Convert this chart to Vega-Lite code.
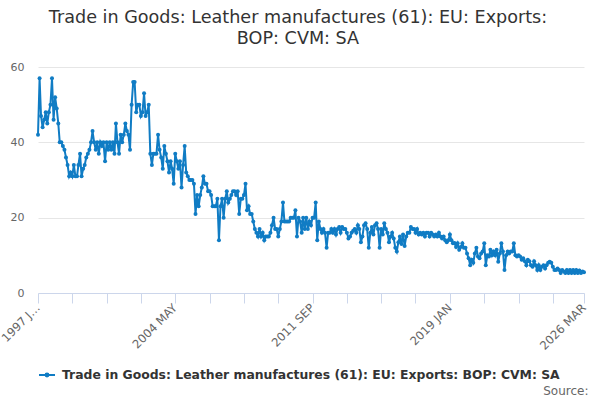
{
  "$schema": "https://vega.github.io/schema/vega-lite/v6.json",
  "width": 546,
  "height": 226,
  "autosize": {"type": "none"},
  "padding": {"left": 38, "top": 67, "right": 16, "bottom": 107},
  "background": "white",
  "title": {
    "text": ["Trade in Goods: Leather manufactures (61): EU: Exports:", "BOP: CVM: SA"],
    "anchor": "middle",
    "dx": -13,
    "offset": 13,
    "font": "DejaVu Sans",
    "fontSize": 17.6,
    "fontWeight": "normal",
    "color": "#333333",
    "lineHeight": 21
  },
  "config": {
    "view": {"stroke": null},
    "font": "DejaVu Sans"
  },
  "data": {
    "values": [
      {"date":"1997-01-01","v":42},{"date":"1997-02-01","v":57},{"date":"1997-03-01","v":47},{"date":"1997-04-01","v":44},{"date":"1997-05-01","v":46},{"date":"1997-06-01","v":48},{"date":"1997-07-01","v":45},{"date":"1997-08-01","v":48},{"date":"1997-09-01","v":50},{"date":"1997-10-01","v":57},{"date":"1997-11-01","v":46},{"date":"1997-12-01","v":52},
      {"date":"1998-01-01","v":49},{"date":"1998-02-01","v":45},{"date":"1998-03-01","v":40},{"date":"1998-04-01","v":40},{"date":"1998-05-01","v":39},{"date":"1998-06-01","v":38},{"date":"1998-07-01","v":36},{"date":"1998-08-01","v":34},{"date":"1998-09-01","v":31},{"date":"1998-10-01","v":32},{"date":"1998-11-01","v":31},{"date":"1998-12-01","v":34},
      {"date":"1999-01-01","v":31},{"date":"1999-02-01","v":31},{"date":"1999-03-01","v":34},{"date":"1999-04-01","v":37},{"date":"1999-05-01","v":31},{"date":"1999-06-01","v":33},{"date":"1999-07-01","v":34},{"date":"1999-08-01","v":36},{"date":"1999-09-01","v":37},{"date":"1999-10-01","v":38},{"date":"1999-11-01","v":40},{"date":"1999-12-01","v":43},
      {"date":"2000-01-01","v":40},{"date":"2000-02-01","v":38},{"date":"2000-03-01","v":40},{"date":"2000-04-01","v":37},{"date":"2000-05-01","v":40},{"date":"2000-06-01","v":39},{"date":"2000-07-01","v":40},{"date":"2000-08-01","v":35},{"date":"2000-09-01","v":40},{"date":"2000-10-01","v":38},{"date":"2000-11-01","v":40},{"date":"2000-12-01","v":38},
      {"date":"2001-01-01","v":40},{"date":"2001-02-01","v":37},{"date":"2001-03-01","v":45},{"date":"2001-04-01","v":40},{"date":"2001-05-01","v":37},{"date":"2001-06-01","v":42},{"date":"2001-07-01","v":40},{"date":"2001-08-01","v":42},{"date":"2001-09-01","v":45},{"date":"2001-10-01","v":43},{"date":"2001-11-01","v":42},{"date":"2001-12-01","v":38},
      {"date":"2002-01-01","v":50},{"date":"2002-02-01","v":56},{"date":"2002-03-01","v":56},{"date":"2002-04-01","v":48},{"date":"2002-05-01","v":50},{"date":"2002-06-01","v":50},{"date":"2002-07-01","v":47},{"date":"2002-08-01","v":48},{"date":"2002-09-01","v":53},{"date":"2002-10-01","v":47},{"date":"2002-11-01","v":48},{"date":"2002-12-01","v":50},
      {"date":"2003-01-01","v":37},{"date":"2003-02-01","v":34},{"date":"2003-03-01","v":37},{"date":"2003-04-01","v":37},{"date":"2003-05-01","v":37},{"date":"2003-06-01","v":42},{"date":"2003-07-01","v":38},{"date":"2003-08-01","v":36},{"date":"2003-09-01","v":33},{"date":"2003-10-01","v":39},{"date":"2003-11-01","v":37},{"date":"2003-12-01","v":35},
      {"date":"2004-01-01","v":32},{"date":"2004-02-01","v":35},{"date":"2004-03-01","v":33},{"date":"2004-04-01","v":29},{"date":"2004-05-01","v":37},{"date":"2004-06-01","v":35},{"date":"2004-07-01","v":33},{"date":"2004-08-01","v":35},{"date":"2004-09-01","v":28},{"date":"2004-10-01","v":34},{"date":"2004-11-01","v":39},{"date":"2004-12-01","v":32},
      {"date":"2005-01-01","v":31},{"date":"2005-02-01","v":30},{"date":"2005-03-01","v":30},{"date":"2005-04-01","v":30},{"date":"2005-05-01","v":29},{"date":"2005-06-01","v":21},{"date":"2005-07-01","v":26},{"date":"2005-08-01","v":23},{"date":"2005-09-01","v":26},{"date":"2005-10-01","v":28},{"date":"2005-11-01","v":31},{"date":"2005-12-01","v":29},
      {"date":"2006-01-01","v":29},{"date":"2006-02-01","v":27},{"date":"2006-03-01","v":27},{"date":"2006-04-01","v":26},{"date":"2006-05-01","v":23},{"date":"2006-06-01","v":23},{"date":"2006-07-01","v":23},{"date":"2006-08-01","v":25},{"date":"2006-09-01","v":14},{"date":"2006-10-01","v":23},{"date":"2006-11-01","v":25},{"date":"2006-12-01","v":20},
      {"date":"2007-01-01","v":25},{"date":"2007-02-01","v":27},{"date":"2007-03-01","v":24},{"date":"2007-04-01","v":25},{"date":"2007-05-01","v":26},{"date":"2007-06-01","v":27},{"date":"2007-07-01","v":27},{"date":"2007-08-01","v":26},{"date":"2007-09-01","v":27},{"date":"2007-10-01","v":21},{"date":"2007-11-01","v":25},{"date":"2007-12-01","v":25},
      {"date":"2008-01-01","v":26},{"date":"2008-02-01","v":29},{"date":"2008-03-01","v":22},{"date":"2008-04-01","v":23},{"date":"2008-05-01","v":21},{"date":"2008-06-01","v":21},{"date":"2008-07-01","v":19},{"date":"2008-08-01","v":17},{"date":"2008-09-01","v":16},{"date":"2008-10-01","v":15},{"date":"2008-11-01","v":17},{"date":"2008-12-01","v":15},
      {"date":"2009-01-01","v":16},{"date":"2009-02-01","v":14},{"date":"2009-03-01","v":15},{"date":"2009-04-01","v":15},{"date":"2009-05-01","v":15},{"date":"2009-06-01","v":16},{"date":"2009-07-01","v":18},{"date":"2009-08-01","v":20},{"date":"2009-09-01","v":17},{"date":"2009-10-01","v":17},{"date":"2009-11-01","v":15},{"date":"2009-12-01","v":17},
      {"date":"2010-01-01","v":19},{"date":"2010-02-01","v":24},{"date":"2010-03-01","v":19},{"date":"2010-04-01","v":19},{"date":"2010-05-01","v":19},{"date":"2010-06-01","v":19},{"date":"2010-07-01","v":20},{"date":"2010-08-01","v":20},{"date":"2010-09-01","v":20},{"date":"2010-10-01","v":22},{"date":"2010-11-01","v":15},{"date":"2010-12-01","v":20},
      {"date":"2011-01-01","v":19},{"date":"2011-02-01","v":16},{"date":"2011-03-01","v":20},{"date":"2011-04-01","v":17},{"date":"2011-05-01","v":20},{"date":"2011-06-01","v":17},{"date":"2011-07-01","v":19},{"date":"2011-08-01","v":18},{"date":"2011-09-01","v":20},{"date":"2011-10-01","v":20},{"date":"2011-11-01","v":24},{"date":"2011-12-01","v":14},
      {"date":"2012-01-01","v":19},{"date":"2012-02-01","v":17},{"date":"2012-03-01","v":16},{"date":"2012-04-01","v":17},{"date":"2012-05-01","v":16},{"date":"2012-06-01","v":12},{"date":"2012-07-01","v":16},{"date":"2012-08-01","v":16},{"date":"2012-09-01","v":17},{"date":"2012-10-01","v":16},{"date":"2012-11-01","v":17},{"date":"2012-12-01","v":15.5},
      {"date":"2013-01-01","v":17},{"date":"2013-02-01","v":17.5},{"date":"2013-03-01","v":16},{"date":"2013-04-01","v":17.5},{"date":"2013-05-01","v":17},{"date":"2013-06-01","v":17},{"date":"2013-07-01","v":16},{"date":"2013-08-01","v":14.5},{"date":"2013-09-01","v":15},{"date":"2013-10-01","v":16},{"date":"2013-11-01","v":16.5},{"date":"2013-12-01","v":17},
      {"date":"2014-01-01","v":16},{"date":"2014-02-01","v":18},{"date":"2014-03-01","v":17},{"date":"2014-04-01","v":13.5},{"date":"2014-05-01","v":15},{"date":"2014-06-01","v":18},{"date":"2014-07-01","v":18.5},{"date":"2014-08-01","v":17},{"date":"2014-09-01","v":12},{"date":"2014-10-01","v":16},{"date":"2014-11-01","v":17.5},{"date":"2014-12-01","v":15.5},
      {"date":"2015-01-01","v":18},{"date":"2015-02-01","v":18.5},{"date":"2015-03-01","v":17},{"date":"2015-04-01","v":12},{"date":"2015-05-01","v":17},{"date":"2015-06-01","v":15.5},{"date":"2015-07-01","v":18.5},{"date":"2015-08-01","v":17},{"date":"2015-09-01","v":16},{"date":"2015-10-01","v":13.5},{"date":"2015-11-01","v":15},{"date":"2015-12-01","v":16},
      {"date":"2016-01-01","v":14.5},{"date":"2016-02-01","v":12},{"date":"2016-03-01","v":11},{"date":"2016-04-01","v":13.5},{"date":"2016-05-01","v":15},{"date":"2016-06-01","v":13},{"date":"2016-07-01","v":15.5},{"date":"2016-08-01","v":12.5},{"date":"2016-09-01","v":15},{"date":"2016-10-01","v":16},{"date":"2016-11-01","v":16},{"date":"2016-12-01","v":17.5},
      {"date":"2017-01-01","v":17},{"date":"2017-02-01","v":17},{"date":"2017-03-01","v":16},{"date":"2017-04-01","v":17},{"date":"2017-05-01","v":15.5},{"date":"2017-06-01","v":16},{"date":"2017-07-01","v":15.5},{"date":"2017-08-01","v":16},{"date":"2017-09-01","v":15},{"date":"2017-10-01","v":16},{"date":"2017-11-01","v":16},{"date":"2017-12-01","v":15},
      {"date":"2018-01-01","v":16},{"date":"2018-02-01","v":15.5},{"date":"2018-03-01","v":15},{"date":"2018-04-01","v":15.5},{"date":"2018-05-01","v":15},{"date":"2018-06-01","v":16},{"date":"2018-07-01","v":15},{"date":"2018-08-01","v":14.5},{"date":"2018-09-01","v":15},{"date":"2018-10-01","v":14},{"date":"2018-11-01","v":13.5},{"date":"2018-12-01","v":14},
      {"date":"2019-01-01","v":15.5},{"date":"2019-02-01","v":14},{"date":"2019-03-01","v":13.2},{"date":"2019-04-01","v":13.3},{"date":"2019-05-01","v":12.2},{"date":"2019-06-01","v":13.2},{"date":"2019-07-01","v":11.5},{"date":"2019-08-01","v":12.2},{"date":"2019-09-01","v":13.2},{"date":"2019-10-01","v":12},{"date":"2019-11-01","v":12},{"date":"2019-12-01","v":10.5},
      {"date":"2020-01-01","v":9.2},{"date":"2020-02-01","v":7.4},{"date":"2020-03-01","v":8.8},{"date":"2020-04-01","v":8},{"date":"2020-05-01","v":10.5},{"date":"2020-06-01","v":12},{"date":"2020-07-01","v":9.7},{"date":"2020-08-01","v":9.2},{"date":"2020-09-01","v":10.5},{"date":"2020-10-01","v":11},{"date":"2020-11-01","v":13.2},{"date":"2020-12-01","v":7.4},
      {"date":"2021-01-01","v":10},{"date":"2021-02-01","v":9.7},{"date":"2021-03-01","v":11.5},{"date":"2021-04-01","v":10},{"date":"2021-05-01","v":11},{"date":"2021-06-01","v":10},{"date":"2021-07-01","v":11.5},{"date":"2021-08-01","v":8.3},{"date":"2021-09-01","v":10.5},{"date":"2021-10-01","v":13.2},{"date":"2021-11-01","v":11},{"date":"2021-12-01","v":6.1},
      {"date":"2022-01-01","v":10},{"date":"2022-02-01","v":11},{"date":"2022-03-01","v":10.5},{"date":"2022-04-01","v":11},{"date":"2022-05-01","v":11},{"date":"2022-06-01","v":13.2},{"date":"2022-07-01","v":10},{"date":"2022-08-01","v":9.7},{"date":"2022-09-01","v":10},{"date":"2022-10-01","v":9.7},{"date":"2022-11-01","v":8.8},{"date":"2022-12-01","v":9.2},
      {"date":"2023-01-01","v":8.4},{"date":"2023-02-01","v":7.4},{"date":"2023-03-01","v":8.8},{"date":"2023-04-01","v":8.4},{"date":"2023-05-01","v":7.4},{"date":"2023-06-01","v":7},{"date":"2023-07-01","v":8.4},{"date":"2023-08-01","v":7.4},{"date":"2023-09-01","v":6.1},{"date":"2023-10-01","v":7.4},{"date":"2023-11-01","v":6.1},{"date":"2023-12-01","v":7},
      {"date":"2024-01-01","v":7.4},{"date":"2024-02-01","v":6.5},{"date":"2024-03-01","v":7.4},{"date":"2024-04-01","v":8},{"date":"2024-05-01","v":8.3},{"date":"2024-06-01","v":8},{"date":"2024-07-01","v":7},{"date":"2024-08-01","v":6.1},{"date":"2024-09-01","v":6.1},{"date":"2024-10-01","v":6.5},{"date":"2024-11-01","v":6.1},{"date":"2024-12-01","v":5.3},
      {"date":"2025-01-01","v":6.1},{"date":"2025-02-01","v":5.7},{"date":"2025-03-01","v":5.3},{"date":"2025-04-01","v":6.1},{"date":"2025-05-01","v":5.3},{"date":"2025-06-01","v":6.1},{"date":"2025-07-01","v":5.3},{"date":"2025-08-01","v":6.1},{"date":"2025-09-01","v":5.3},{"date":"2025-10-01","v":6.1},{"date":"2025-11-01","v":5.3},{"date":"2025-12-01","v":6},
      {"date":"2026-01-01","v":5.3},{"date":"2026-02-01","v":5.7},{"date":"2026-03-01","v":5.5}
    ]
  },
  "encoding": {
    "x": {
      "field": "date",
      "type": "temporal",
      "scale": {"type": "utc", "domain": ["1997-01-01", "2026-03-01"], "nice": false},
      "axis": {
        "values": [
          {"year": 1997, "month": 1, "utc": true}, {"year": 1998, "month": 11, "utc": true},
          {"year": 2000, "month": 9, "utc": true}, {"year": 2002, "month": 7, "utc": true},
          {"year": 2004, "month": 5, "utc": true}, {"year": 2006, "month": 3, "utc": true},
          {"year": 2008, "month": 1, "utc": true}, {"year": 2009, "month": 11, "utc": true},
          {"year": 2011, "month": 9, "utc": true}, {"year": 2013, "month": 7, "utc": true},
          {"year": 2015, "month": 5, "utc": true}, {"year": 2017, "month": 3, "utc": true},
          {"year": 2019, "month": 1, "utc": true}, {"year": 2020, "month": 11, "utc": true},
          {"year": 2022, "month": 9, "utc": true}, {"year": 2024, "month": 7, "utc": true},
          {"year": 2026, "month": 3, "utc": true}
        ],
        "labelExpr": "utcFormat(datum.value, '%Y-%m') == '1997-01' ? '1997 J…' : (indexof(['2004-05', '2011-09', '2019-01', '2026-03'], utcFormat(datum.value, '%Y-%m')) >= 0 ? upper(utcFormat(datum.value, '%Y %b')) : '')",
        "labelAngle": -45,
        "labelAlign": "right",
        "labelBaseline": "middle",
        "labelPadding": 3,
        "labelFontSize": 11.6,
        "labelColor": "#666666",
        "labelOverlap": false,
        "labelBound": false,
        "labelFlush": false,
        "grid": false,
        "domainColor": "#ccd6eb",
        "tickColor": "#ccd6eb",
        "tickSize": 10,
        "title": "Source:",
        "titleAlign": "right",
        "titleAnchor": null,
        "titleX": 550,
        "titleY": 101,
        "titleBaseline": "alphabetic",
        "titleFontWeight": "normal",
        "titleFontSize": 12,
        "titleColor": "#666666"
      }
    },
    "y": {
      "field": "v",
      "type": "quantitative",
      "scale": {"domain": [0, 60], "nice": false},
      "axis": {
        "values": [0, 20, 40, 60],
        "title": null,
        "domain": false,
        "ticks": false,
        "labelPadding": 14,
        "labelFontSize": 11,
        "labelColor": "#666666",
        "gridColor": "#e6e6e6"
      }
    },
    "color": {
      "datum": "Trade in Goods: Leather manufactures (61): EU: Exports: BOP: CVM: SA",
      "type": "nominal",
      "scale": {"range": ["#107cc4"]},
      "legend": {
        "title": null,
        "orient": "none",
        "legendX": 0,
        "legendY": 299,
        "padding": 0,
        "symbolType": "M-1,0L1,0M-0.18,0A0.18,0.18,0,1,0,0.18,0A0.18,0.18,0,1,0,-0.18,0Z",
        "symbolSize": 256,
        "symbolStrokeWidth": 2,
        "symbolFillColor": "#107cc4",
        "symbolStrokeColor": "#107cc4",
        "labelFontSize": 12.4,
        "labelFontWeight": "bold",
        "labelColor": "#333333",
        "labelLimit": 600,
        "labelOffset": 6
      }
    }
  },
  "layer": [
    {"mark": {"type": "line", "strokeWidth": 2}},
    {"mark": {"type": "point", "filled": true, "size": 16, "opacity": 1}}
  ]
}
